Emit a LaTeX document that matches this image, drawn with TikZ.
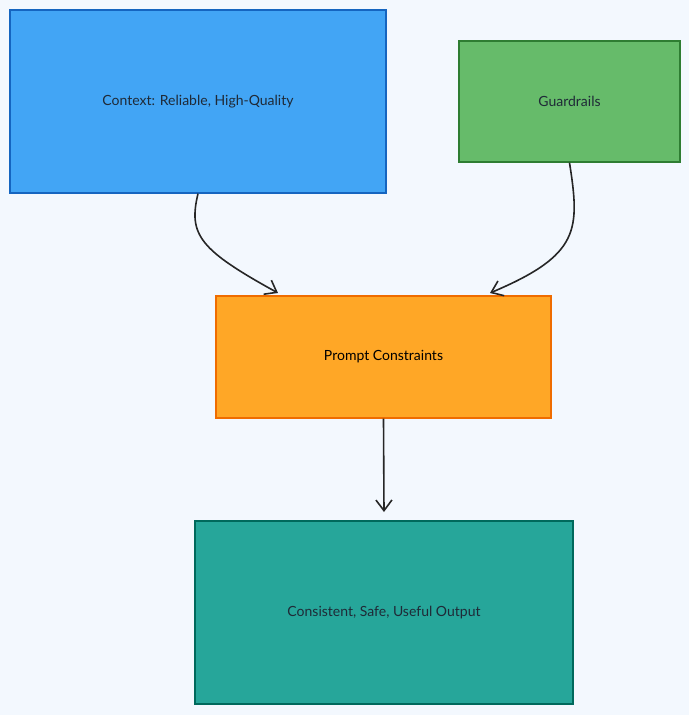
\documentclass[tikz,border=0pt]{standalone}
\usepackage{fontspec}
\setmainfont{Lato}
\usetikzlibrary{arrows.meta,positioning}
\definecolor{bgcol}{HTML}{F3F8FE}
\definecolor{txtcol}{HTML}{1F2A37}
\definecolor{ctxfill}{HTML}{42A5F5}
\definecolor{ctxline}{HTML}{1565C0}
\definecolor{grdfill}{HTML}{66BB6A}
\definecolor{grdline}{HTML}{2E7D32}
\definecolor{prmfill}{HTML}{FFA726}
\definecolor{prmline}{HTML}{EF6C00}
\definecolor{outfill}{HTML}{26A69A}
\definecolor{outline}{HTML}{00695C}
\begin{document}
\begin{tikzpicture}[x=0.75pt,y=-0.75pt,
  box/.style={draw,line width=1pt,rectangle,text=txtcol,font=\fontsize{10.5}{12}\selectfont},
  flow/.style={draw=black!85,line width=1.2pt,-{Straight Barb[length=8pt,width=12pt]}}]

\fill[bgcol] (0,0) rectangle (689,715);
\useasboundingbox (0,0) rectangle (689,715);

\node[box,fill=ctxfill,draw=ctxline,minimum width=282pt,minimum height=137.25pt](context) at (198,101.5) {Context: Reliable, High-Quality};
\node[box,fill=grdfill,draw=grdline,minimum width=165.75pt,minimum height=90.75pt](guard) at (569.5,101.5) {Guardrails};
\node[box,fill=prmfill,draw=prmline,minimum width=251.25pt,minimum height=91.5pt,text=black](prompt) at (383.5,357) {Prompt Constraints};
\node[box,fill=outfill,draw=outline,minimum width=283.5pt,minimum height=137.25pt](output) at (384,612.5) {Consistent, Safe, Useful Output};

\coordinate (in1) at (278,293);
\coordinate (in2) at (490,293);
\coordinate (in3) at (384,512);

\draw[flow] (context.south) .. controls (188,235) and (200,250) .. (in1);
\draw[flow] (guard.south) .. controls (580,230) and (580,255) .. (in2);
\draw[flow] (prompt.south) -- (in3);

\end{tikzpicture}
\end{document}
